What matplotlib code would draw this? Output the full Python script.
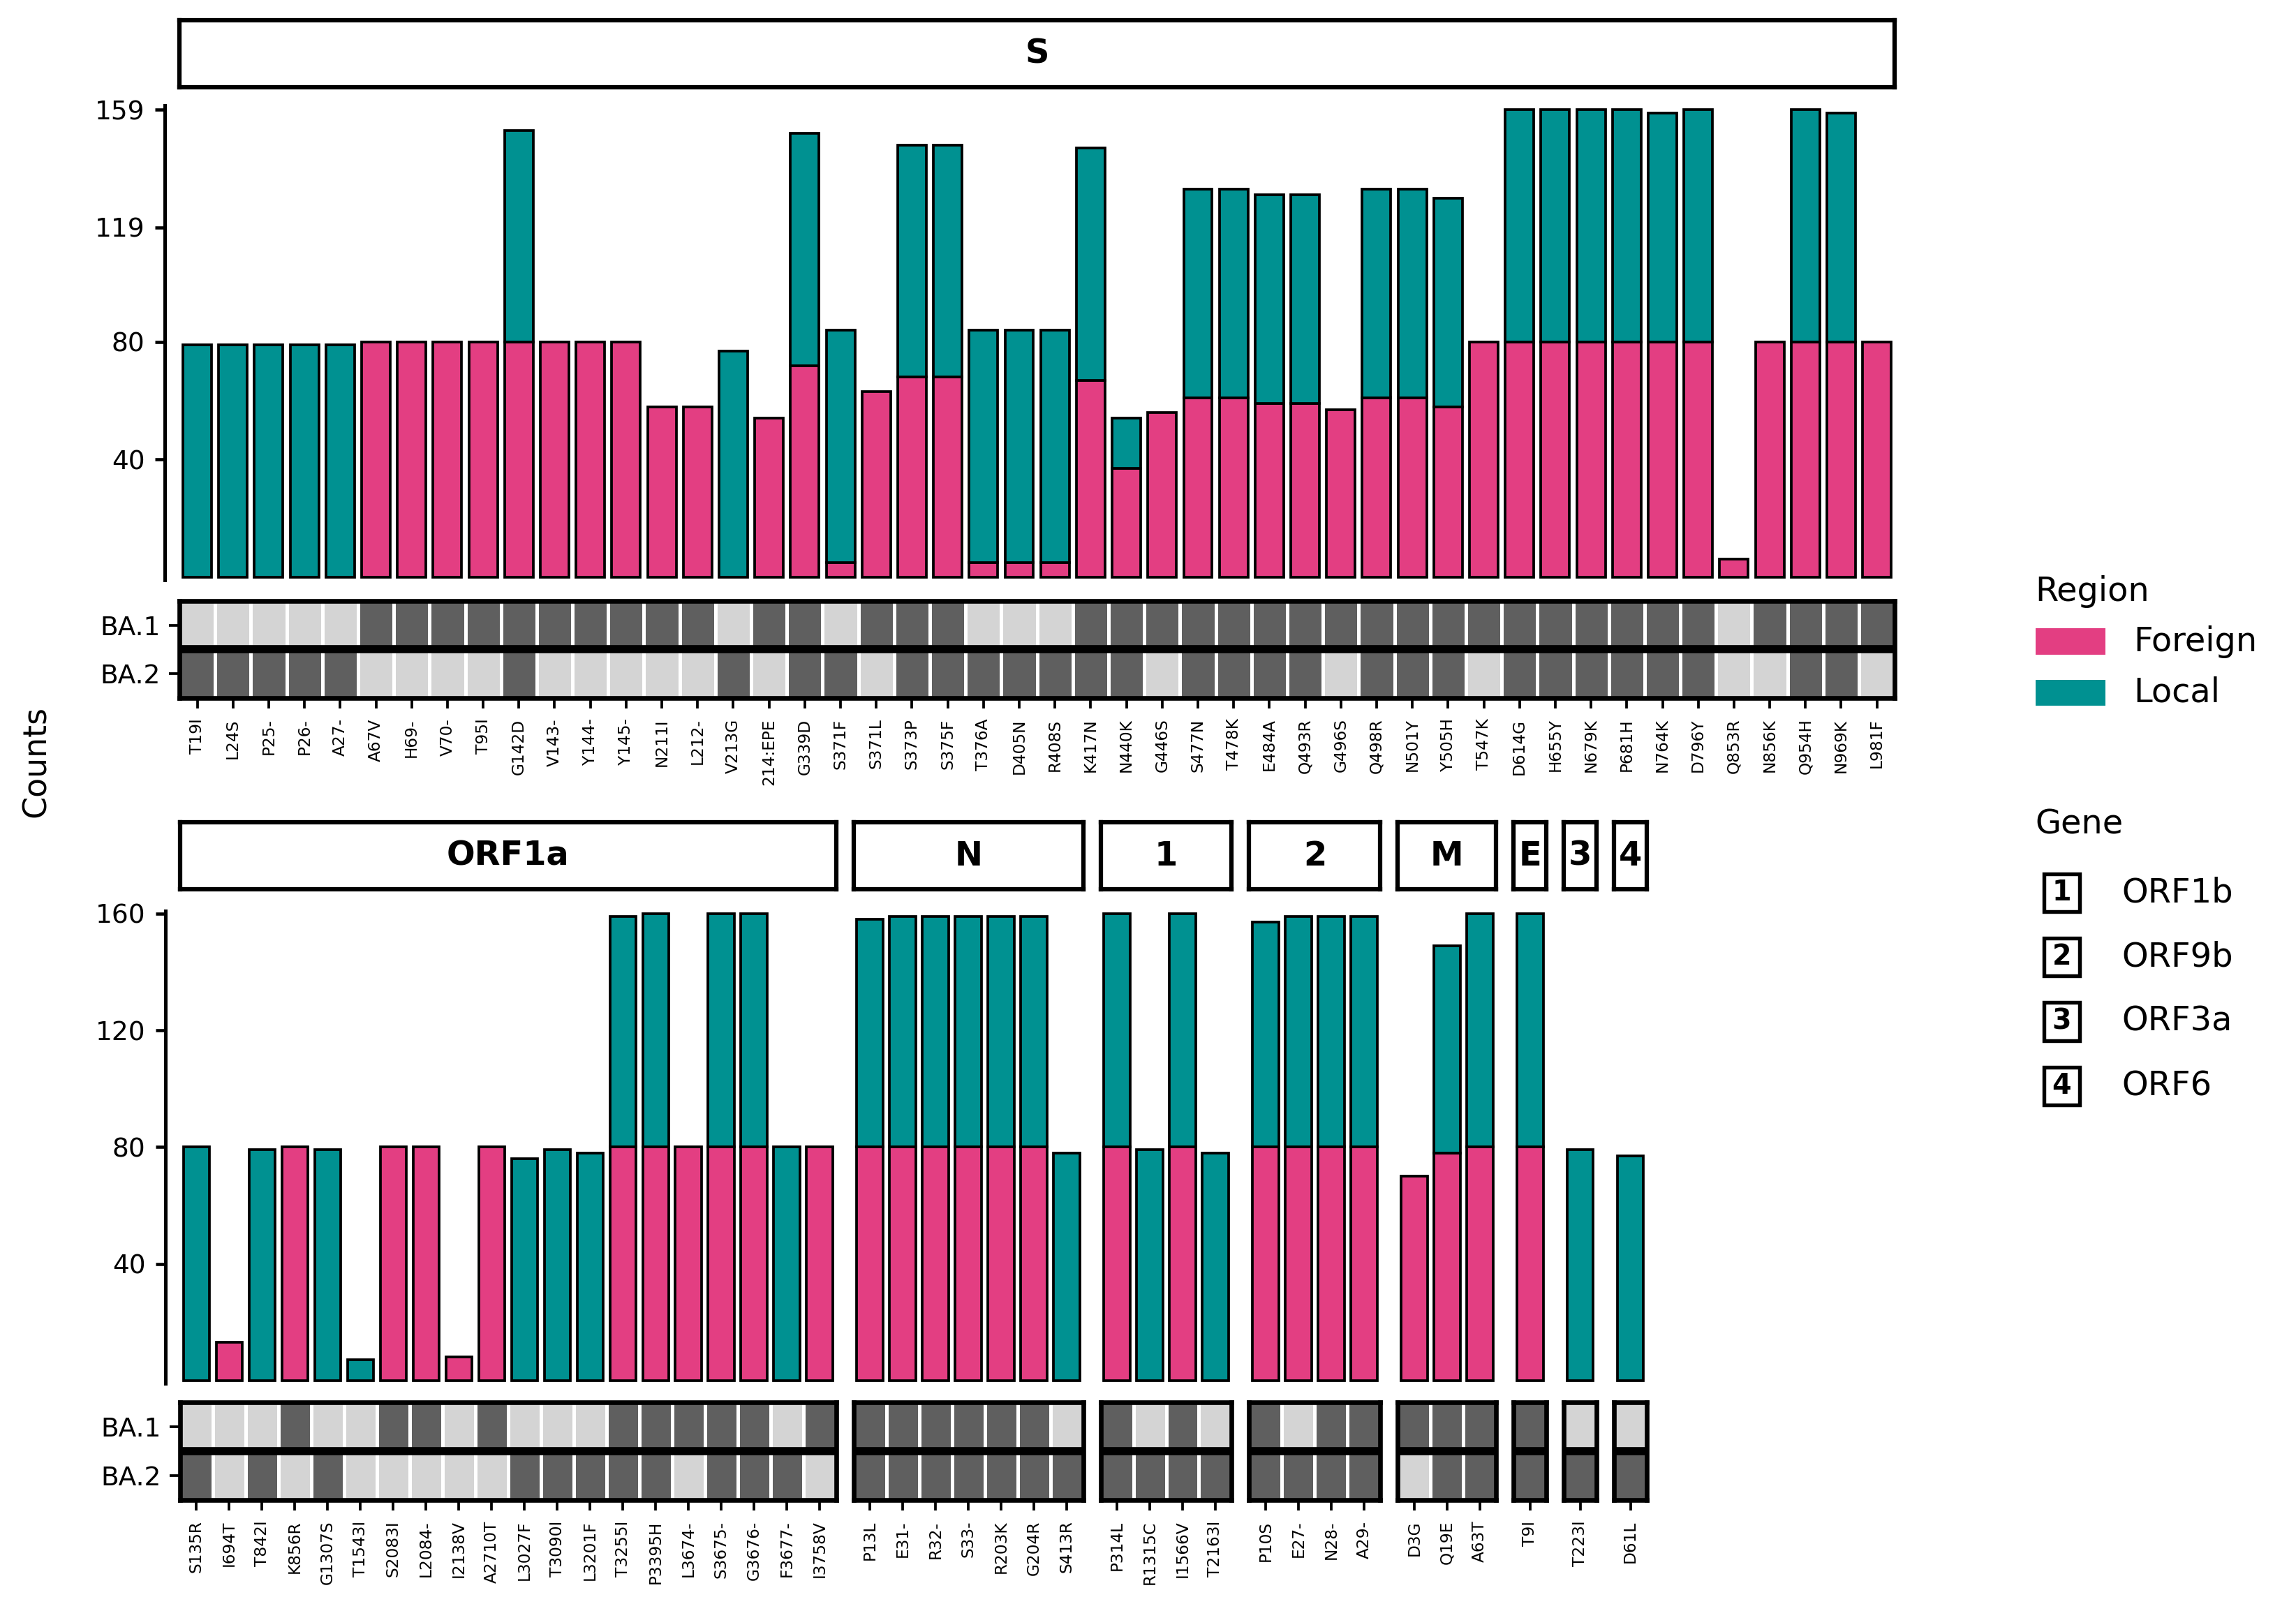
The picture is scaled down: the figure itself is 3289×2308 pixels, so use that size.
import numpy as np
import matplotlib
matplotlib.use('Agg')
import matplotlib.pyplot as plt
from matplotlib.colors import ListedColormap
from matplotlib.patches import Rectangle

# ---- S gene (top row) ----
s_labels = ['T19I', 'L24S', 'P25-', 'P26-', 'A27-', 'A67V', 'H69-', 'V70-', 'T95I', 'G142D',
            'V143-', 'Y144-', 'Y145-', 'N211I', 'L212-', 'V213G', '214:EPE', 'G339D', 'S371F', 'S371L',
            'S373P', 'S375F', 'T376A', 'D405N', 'R408S', 'K417N', 'N440K', 'G446S', 'S477N', 'T478K',
            'E484A', 'Q493R', 'G496S', 'Q498R', 'N501Y', 'Y505H', 'T547K', 'D614G', 'H655Y', 'N679K',
            'P681H', 'N764K', 'D796Y', 'Q853R', 'N856K', 'Q954H', 'N969K', 'L981F']
s_foreign = [0, 0, 0, 0, 0, 80, 80, 80, 80, 80,
             80, 80, 80, 58, 58, 0, 54, 72, 5, 63,
             68, 68, 5, 5, 5, 67, 37, 56, 61, 61,
             59, 59, 57, 61, 61, 58, 80, 80, 80, 80,
             80, 80, 80, 6, 80, 80, 80, 80]
s_local = [79, 79, 79, 79, 79, 0, 0, 0, 0, 72,
           0, 0, 0, 0, 0, 77, 0, 79, 79, 0,
           79, 79, 79, 79, 79, 79, 17, 0, 71, 71,
           71, 71, 0, 71, 71, 71, 0, 79, 79, 79,
           79, 78, 79, 0, 0, 79, 78, 0]
s_ba1 = [0, 0, 0, 0, 0, 1, 1, 1, 1, 1,
         1, 1, 1, 1, 1, 0, 1, 1, 0, 1,
         1, 1, 0, 0, 0, 1, 1, 1, 1, 1,
         1, 1, 1, 1, 1, 1, 1, 1, 1, 1,
         1, 1, 1, 0, 1, 1, 1, 1]
s_ba2 = [1, 1, 1, 1, 1, 0, 0, 0, 0, 1,
         0, 0, 0, 0, 0, 1, 0, 1, 1, 0,
         1, 1, 1, 1, 1, 1, 1, 0, 1, 1,
         1, 1, 0, 1, 1, 1, 0, 1, 1, 1,
         1, 1, 1, 0, 0, 1, 1, 0]

# ---- other genes (bottom row) ----
low_labels = ['S135R', 'I694T', 'T842I', 'K856R', 'G1307S', 'T1543I', 'S2083I', 'L2084-', 'I2138V', 'A2710T',
              'L3027F', 'T3090I', 'L3201F', 'T3255I', 'P3395H', 'L3674-', 'S3675-', 'G3676-', 'F3677-', 'I3758V',
              'P13L', 'E31-', 'R32-', 'S33-', 'R203K', 'G204R', 'S413R',
              'P314L', 'R1315C', 'I1566V', 'T2163I',
              'P10S', 'E27-', 'N28-', 'A29-',
              'D3G', 'Q19E', 'A63T',
              'T9I', 'T223I', 'D61L']
low_gene = ['ORF1a'] * 20 + ['N'] * 7 + ['ORF1b'] * 4 + ['ORF9b'] * 4 + ['M'] * 3 + ['E', 'ORF3a', 'ORF6']
low_foreign = [0, 13, 0, 80, 0, 0, 80, 80, 8, 80,
               0, 0, 0, 80, 80, 80, 80, 80, 0, 80,
               80, 80, 80, 80, 80, 80, 0,
               80, 0, 80, 0,
               80, 80, 80, 80,
               70, 78, 80,
               80, 0, 0]
low_local = [80, 0, 79, 0, 79, 7, 0, 0, 0, 0,
             76, 79, 78, 79, 80, 0, 80, 80, 80, 0,
             78, 79, 79, 79, 79, 79, 78,
             80, 79, 80, 78,
             77, 79, 79, 79,
             0, 71, 80,
             80, 79, 77]
low_ba1 = [0, 0, 0, 1, 0, 0, 1, 1, 0, 1,
           0, 0, 0, 1, 1, 1, 1, 1, 0, 1,
           1, 1, 1, 1, 1, 1, 0,
           1, 0, 1, 0,
           1, 0, 1, 1,
           1, 1, 1,
           1, 0, 0]
low_ba2 = [1, 0, 1, 0, 1, 0, 0, 0, 0, 0,
           1, 1, 1, 1, 1, 0, 1, 1, 1, 0,
           1, 1, 1, 1, 1, 1, 1,
           1, 1, 1, 1,
           1, 1, 1, 1,
           0, 1, 1,
           1, 1, 1]

gene_order = ['ORF1a', 'N', 'ORF1b', 'ORF9b', 'M', 'E', 'ORF3a', 'ORF6']
gene_strip = ['ORF1a', 'N', '1', '2', 'M', 'E', '3', '4']
key_numbers = ['1', '2', '3', '4']
key_genes = ['ORF1b', 'ORF9b', 'ORF3a', 'ORF6']
region_names = ['Foreign', 'Local']
lineages = ['BA.1', 'BA.2']

PINK = '#E33E82'
TEAL = '#009191'
DARK = '#5F5F5F'
LIGHT = '#D4D4D4'

W, H = 1568.0, 1100.0  # layout reference grid


def rect(x0, y0, x1, y1):
    return [x0 / W, 1 - y1 / H, (x1 - x0) / W, (y1 - y0) / H]


fig = plt.figure(figsize=(3289 / 300, 2308 / 300), dpi=300)


def draw_strip(r, text):
    ax = fig.add_axes(r)
    ax.set_xticks([])
    ax.set_yticks([])
    for sp in ax.spines.values():
        sp.set_linewidth(1.5)
    ax.text(0.5, 0.5, text, ha='center', va='center', fontsize=11.5,
            fontweight='bold', transform=ax.transAxes)


def draw_bars(r, foreign, local, ylim, yticks, first):
    ax = fig.add_axes(r)
    foreign = np.array(foreign)
    local = np.array(local)
    x = np.arange(len(foreign))
    m = foreign > 0
    ax.bar(x[m], foreign[m], width=0.8, color=PINK, edgecolor='black', linewidth=0.9)
    m = local > 0
    ax.bar(x[m], local[m], bottom=foreign[m], width=0.8, color=TEAL,
           edgecolor='black', linewidth=0.9)
    ax.set_xlim(-0.5, len(foreign) - 0.5)
    ax.set_ylim(*ylim)
    for s in ['top', 'right', 'bottom']:
        ax.spines[s].set_visible(False)
    ax.set_xticks([])
    if first:
        ax.spines['left'].set_position(('outward', 5))
        ax.spines['left'].set_linewidth(1.2)
        ax.set_yticks(yticks)
        ax.tick_params(axis='y', length=3.4, width=1.1, labelsize=9, pad=3.5)
    else:
        ax.spines['left'].set_visible(False)
        ax.set_yticks([])
    ax.patch.set_alpha(0)
    return ax


def draw_heat(r, ba1, ba2, labels, first):
    ax = fig.add_axes(r)
    grid = np.array([ba1, ba2])
    n = grid.shape[1]
    ax.pcolormesh(np.arange(n + 1) - 0.5, [0, 1, 2], grid,
                  cmap=ListedColormap([LIGHT, DARK]), vmin=0, vmax=1,
                  edgecolors='white', linewidth=1.2)
    ax.set_xlim(-0.5, n - 0.5)
    ax.set_ylim(2, 0)
    ax.axhline(1, color='black', linewidth=2.8)
    for sp in ax.spines.values():
        sp.set_linewidth(1.6)
    ax.set_xticks(np.arange(n))
    ax.set_xticklabels(labels, rotation=90, fontsize=5.6)
    ax.tick_params(axis='x', length=3.6, width=0.9, pad=3.5)
    if first:
        ax.set_yticks([0.5, 1.5])
        ax.set_yticklabels(lineages, fontsize=9)
        ax.tick_params(axis='y', length=3.6, width=0.9, pad=3)
    else:
        ax.set_yticks([])
    return ax


# ---- top row: S ----
X0, X1 = 122.5, 1294.0
draw_strip(rect(X0, 13.8, X1, 59.5), 'S')
draw_bars(rect(X0, 72, X1, 396), s_foreign, s_local, (-1, 160.5), [40, 80, 119, 159], True)
draw_heat(rect(X0, 410.3, X1, 476.6), s_ba1, s_ba2, s_labels, True)

# ---- bottom row: remaining genes, panel width proportional to mutation count ----
unit, gap = 22.4, 11.9
x = 123.0
low_gene_arr = np.array(low_gene)
for k, (g, lab) in enumerate(zip(gene_order, gene_strip)):
    idx = np.where(low_gene_arr == g)[0]
    xr = x + unit * len(idx)
    draw_strip(rect(x, 561.6, xr, 607.3), lab)
    draw_bars(rect(x, 621.8, xr, 944.6),
              [low_foreign[i] for i in idx], [low_local[i] for i in idx],
              (-1, 161), [40, 80, 120, 160], k == 0)
    draw_heat(rect(x, 957.5, xr, 1024.2),
              [low_ba1[i] for i in idx], [low_ba2[i] for i in idx],
              [low_labels[i] for i in idx], k == 0)
    x = xr + gap

fig.text(25 / W, 1 - 520 / H, 'Counts', rotation=90, fontsize=11,
         ha='center', va='center')

# ---- legends ----
lg = fig.add_axes([0, 0, 1, 1], zorder=-1)
lg.set_xlim(0, W)
lg.set_ylim(H, 0)
lg.axis('off')

lg.text(1390, 404, 'Region', fontsize=11.5, ha='left', va='center')
for j, (name, col) in enumerate(zip(region_names, [PINK, TEAL])):
    yc = 438 + 35 * j
    lg.add_patch(Rectangle((1390, yc - 9), 48, 18, facecolor=col, edgecolor='none'))
    lg.text(1457, yc, name, fontsize=11.5, ha='left', va='center')

lg.text(1390, 563, 'Gene', fontsize=11.5, ha='left', va='center')
for j, (num, name) in enumerate(zip(key_numbers, key_genes)):
    yc = 609.5 + 44 * j
    lg.add_patch(Rectangle((1396, yc - 13), 24, 26, facecolor='white',
                           edgecolor='black', linewidth=1.3))
    lg.text(1408, yc, num, fontsize=9.5, fontweight='bold', ha='center', va='center')
    lg.text(1449, yc, name, fontsize=11.5, ha='left', va='center')

fig.savefig('out.png', dpi=300)
